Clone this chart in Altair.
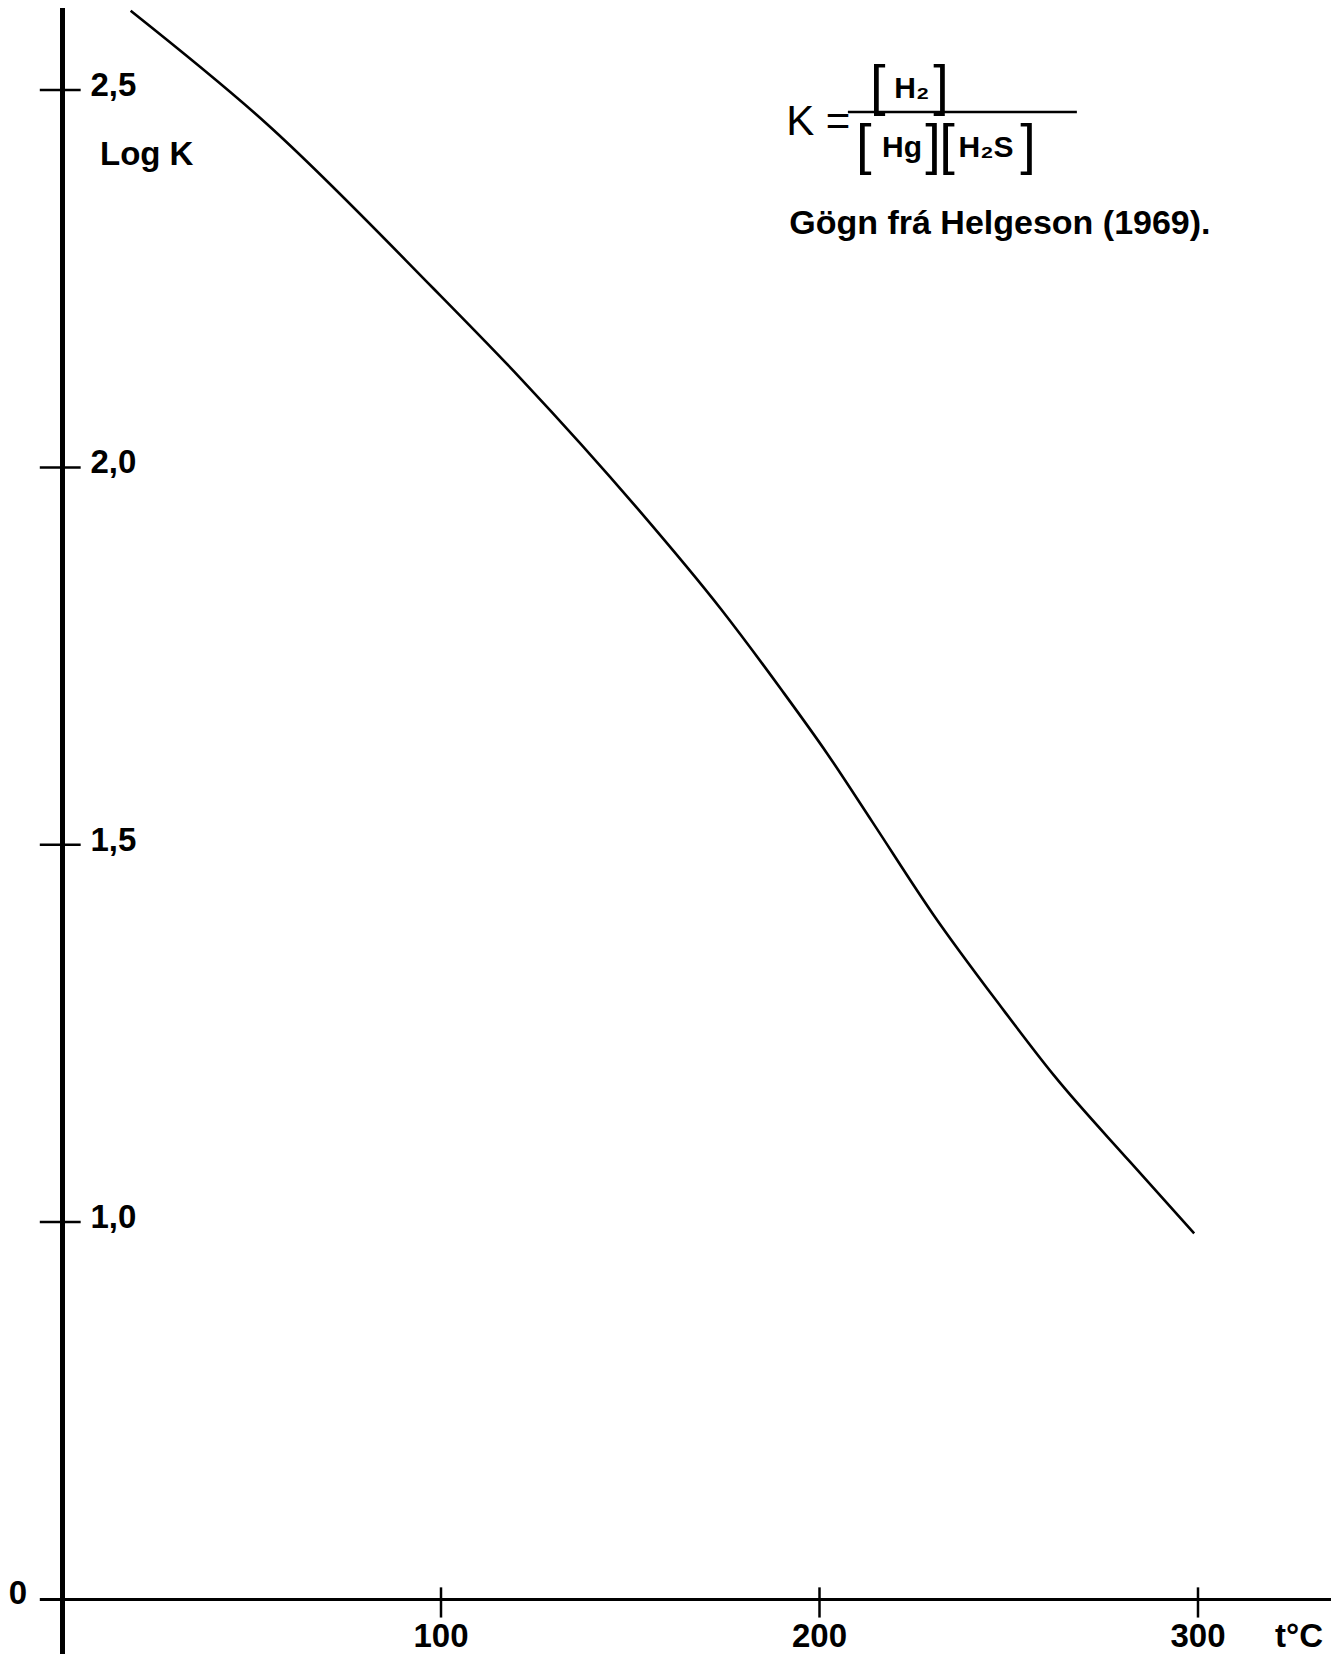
import altair as alt
import pandas as pd

# Curve: log K vs temperature (°C)
temps = [18, 54, 98, 121, 152, 174, 190, 202, 214, 230, 248, 262, 282, 299]
logk = [2.605, 2.455, 2.237, 2.118, 1.945, 1.812, 1.705, 1.621, 1.530, 1.408, 1.285, 1.194, 1.080, 0.985]

# Axis ticks
y_tick_values = [1.0, 1.5, 2.0, 2.5]
y_tick_labels = ["1,0", "1,5", "2,0", "2,5"]
x_tick_values = [100, 200, 300]
x_tick_labels = ["100", "200", "300"]
axis_base = 0.5          # x-axis sits here (axis break), labelled "0"
axis_base_label = "0"

FONT = "Liberation Sans"
W, H = 1323, 1646
XDOM = [-14.40, 335.14]
YDOM = [0.4277, 2.6087]

xs = alt.Scale(domain=XDOM, nice=False, zero=False)
ys = alt.Scale(domain=YDOM, nice=False, zero=False)

curve_df = pd.DataFrame({"t": temps, "logk": logk})
curve = alt.Chart(curve_df).mark_line(color="black", strokeWidth=2.6, interpolate="monotone").encode(
    x=alt.X("t:Q", scale=xs, axis=None),
    y=alt.Y("logk:Q", scale=ys, axis=None),
)

# y axis (thick vertical line at t = 0)
yaxis = alt.Chart(pd.DataFrame({"x": [0]})).mark_rule(color="black", strokeWidth=5).encode(
    x=alt.X("x:Q", scale=xs, axis=None)
)

# x axis line at the break value
xaxis = alt.Chart(pd.DataFrame({"y": [axis_base], "x0": [-6.0], "x1": [XDOM[1]]})).mark_rule(
    color="black", strokeWidth=3
).encode(
    y=alt.Y("y:Q", scale=ys, axis=None),
    x=alt.X("x0:Q", scale=xs, axis=None),
    x2="x1:Q",
)

# y ticks (crossing the axis)
yt_df = pd.DataFrame({"y": y_tick_values, "label": y_tick_labels, "x0": -6.0, "x1": 4.8, "xl": 7.4})
yticks = alt.Chart(yt_df).mark_rule(color="black", strokeWidth=2.5).encode(
    y=alt.Y("y:Q", scale=ys, axis=None),
    x=alt.X("x0:Q", scale=xs, axis=None),
    x2="x1:Q",
)
ylabels = alt.Chart(yt_df).mark_text(
    font=FONT, fontSize=33, fontWeight="bold", align="left", baseline="middle", dy=-4, color="black"
).encode(
    y=alt.Y("y:Q", scale=ys, axis=None),
    x=alt.X("xl:Q", scale=xs, axis=None),
    text="label:N",
)

zero_label = alt.Chart(pd.DataFrame({"y": [axis_base], "x": [-11.8], "label": [axis_base_label]})).mark_text(
    font=FONT, fontSize=33, fontWeight="bold", align="center", baseline="middle", dy=-5, color="black"
).encode(
    y=alt.Y("y:Q", scale=ys, axis=None),
    x=alt.X("x:Q", scale=xs, axis=None),
    text="label:N",
)

# x ticks
xt_df = pd.DataFrame({"x": x_tick_values, "label": x_tick_labels, "y0": 0.476, "y1": 0.516,
                      "yl": 0.450})
xticks = alt.Chart(xt_df).mark_rule(color="black", strokeWidth=2.5).encode(
    x=alt.X("x:Q", scale=xs, axis=None),
    y=alt.Y("y0:Q", scale=ys, axis=None),
    y2="y1:Q",
)
xlabels = alt.Chart(xt_df).mark_text(
    font=FONT, fontSize=33, fontWeight="bold", align="center", baseline="middle", color="black"
).encode(
    x=alt.X("x:Q", scale=xs, axis=None),
    y=alt.Y("yl:Q", scale=ys, axis=None),
    text="label:N",
)

# axis titles and annotations
ann_df = pd.DataFrame({
    "x": [9.9, 192.0],
    "y": [2.414, 2.322],
    "label": ["Log K", "Gögn frá Helgeson (1969)."],
    "size": [33, 34],
})
ann_left = alt.Chart(ann_df).mark_text(
    font=FONT, fontWeight="bold", align="left", baseline="middle", color="black"
).encode(
    x=alt.X("x:Q", scale=xs, axis=None),
    y=alt.Y("y:Q", scale=ys, axis=None),
    size=alt.Size("size:Q", scale=None, legend=None),
    text="label:N",
)
unit_label = alt.Chart(pd.DataFrame({"x": [326.7], "y": [0.450], "label": ["t°C"]})).mark_text(
    font=FONT, fontSize=33, fontWeight="bold", align="center", baseline="middle", color="black"
).encode(
    x=alt.X("x:Q", scale=xs, axis=None),
    y=alt.Y("y:Q", scale=ys, axis=None),
    text="label:N",
)

# formula K = [H2] / ([Hg][H2S])
formula_k = alt.Chart(pd.DataFrame({"x": [191.2], "y": [2.458], "label": ["K ="]})).mark_text(
    font=FONT, fontSize=42, align="left", baseline="middle", color="black"
).encode(
    x=alt.X("x:Q", scale=xs, axis=None),
    y=alt.Y("y:Q", scale=ys, axis=None),
    text="label:N",
)
num_y, den_y = 2.501, 2.423
frac_df = pd.DataFrame({
    "x": [215.4, 224.4, 232.1, 211.7, 221.8, 230.0, 233.7, 243.99, 255.1],
    "y": [num_y, num_y, num_y, den_y, den_y, den_y, den_y, den_y, den_y],
    "label": ["[", "H₂", "]", "[", "Hg", "]", "[", "H₂S", "]"],
    "size": [56, 30, 56, 56, 30, 56, 56, 30, 56],
    "weight": ["normal", "bold", "normal", "normal", "bold", "normal", "normal", "bold", "normal"],
})
frac_brackets = alt.Chart(frac_df[frac_df["weight"] == "normal"]).mark_text(
    font=FONT, align="center", baseline="middle", color="black", dy=-2
).encode(
    x=alt.X("x:Q", scale=xs, axis=None),
    y=alt.Y("y:Q", scale=ys, axis=None),
    size=alt.Size("size:Q", scale=None, legend=None),
    text="label:N",
)
frac_terms = alt.Chart(frac_df[frac_df["weight"] == "bold"]).mark_text(
    font=FONT, fontWeight="bold", align="center", baseline="middle", color="black"
).encode(
    x=alt.X("x:Q", scale=xs, axis=None),
    y=alt.Y("y:Q", scale=ys, axis=None),
    size=alt.Size("size:Q", scale=None, legend=None),
    text="label:N",
)
frac_line = alt.Chart(pd.DataFrame({"y": [2.471], "x0": [207.5], "x1": [268.0]})).mark_rule(
    color="black", strokeWidth=2.5
).encode(
    y=alt.Y("y:Q", scale=ys, axis=None),
    x=alt.X("x0:Q", scale=xs, axis=None),
    x2="x1:Q",
)

chart = alt.layer(
    yaxis, xaxis, yticks, xticks, curve, ylabels, zero_label, xlabels,
    ann_left, unit_label, formula_k, frac_brackets, frac_terms, frac_line,
).properties(
    width=W, height=H, autosize=alt.AutoSizeParams(type="none"), padding=0,
    background="white",
).configure_view(stroke=None)

chart.save("out.html", embed_options={"renderer": "svg", "actions": False})
